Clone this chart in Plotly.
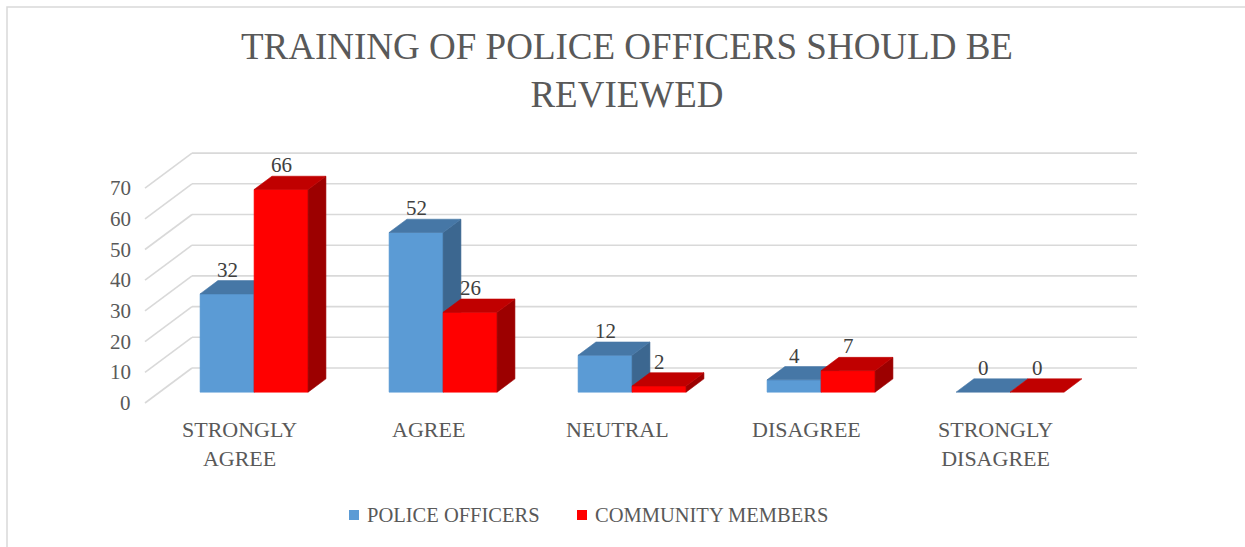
import plotly.graph_objects as go

# ---- data -------------------------------------------------------------
categories = ["STRONGLY<br>AGREE", "AGREE", "NEUTRAL", "DISAGREE", "STRONGLY<br>DISAGREE"]
police_officers = [32, 52, 12, 4, 0]
community_members = [66, 26, 2, 7, 0]
series_names = ["POLICE OFFICERS", "COMMUNITY MEMBERS"]
y_ticks = [0, 10, 20, 30, 40, 50, 60, 70]

# ---- styling ----------------------------------------------------------
FONT = "Liberation Serif"
TEXT = "#595959"
GRID = "#D9D9D9"
# front / top / side shades for each series
SHADES = [
    ("#5B9BD5", "#4677A6", "#3C6790"),
    ("#FF0000", "#C00000", "#9C0000"),
]

W, H = 1245, 547
# oblique projection: a point at depth d (0 = front, 1 = back)
DX = 0.2487   # x-units of shift for full depth
DY = 11.40    # y-units of shift for full depth
D_FRONT, D_BACK = 0.31, 0.69   # depth span occupied by the bars
BAR_W = 0.2857
X_LO, X_HI = -0.5, len(categories) - 0.5


def proj(x, v, d):
    return x + d * DX, v + d * DY


def poly(points):
    xs, ys = zip(*[proj(*p) for p in points])
    return list(xs) + [xs[0]], list(ys) + [ys[0]]


fig = go.Figure()
shapes = []
annotations = []

# back wall grid + left wall diagonals
for v in y_ticks:
    bx0, by = proj(X_LO, v, 1)
    bx1, _ = proj(X_HI, v, 1)
    shapes.append(dict(type="line", xref="x", yref="y", x0=bx0, y0=by, x1=bx1, y1=by,
                       line=dict(color=GRID, width=1.6), layer="below"))
    fx, fy = proj(X_LO, v, 0)
    shapes.append(dict(type="line", xref="x", yref="y", x0=fx, y0=fy, x1=bx0, y1=by,
                       line=dict(color=GRID, width=1.6), layer="below"))
    annotations.append(dict(x=fx, y=fy, xref="x", yref="y", text=str(v), showarrow=False,
                            xanchor="right", yanchor="middle", xshift=-12,
                            font=dict(family=FONT, size=21, color=TEXT)))


def add_face(pts, color):
    xs, ys = poly(pts)
    fig.add_trace(go.Scatter(x=xs, y=ys, mode="lines", fill="toself", fillcolor=color,
                             line=dict(color=color, width=0.6), hoverinfo="skip",
                             showlegend=False))


for i, _ in enumerate(categories):
    for s, values in enumerate([police_officers, community_members]):
        v = values[i]
        front, top, side = SHADES[s]
        l = i - BAR_W + s * BAR_W
        r = l + BAR_W
        if v > 0:
            add_face([(l, 0, D_FRONT), (r, 0, D_FRONT), (r, v, D_FRONT), (l, v, D_FRONT)], front)
            add_face([(r, 0, D_FRONT), (r, 0, D_BACK), (r, v, D_BACK), (r, v, D_FRONT)], side)
        add_face([(l, v, D_FRONT), (r, v, D_FRONT), (r, v, D_BACK), (l, v, D_BACK)], top)
        # value label
        lx, _ = proj((l + r) / 2, v, D_FRONT)
        _, ly = proj((l + r) / 2, v, D_BACK)
        annotations.append(dict(x=lx, y=ly, xref="x", yref="y", text=str(v), showarrow=False,
                                xanchor="center", yanchor="bottom", yshift=-3,
                                font=dict(family=FONT, size=21, color="#404040")))

# category labels
for i, c in enumerate(categories):
    annotations.append(dict(x=i, y=0, xref="x", yref="y", text=c, showarrow=False,
                            xanchor="center", yanchor="top", yshift=-12,
                            font=dict(family=FONT, size=22, color=TEXT)))

# title
annotations.append(dict(x=627 / W, y=1 - 70 / H, xref="paper", yref="paper",
                        text="TRAINING OF POLICE OFFICERS SHOULD BE<br>REVIEWED",
                        showarrow=False, xanchor="center", yanchor="middle",
                        font=dict(family=FONT, size=37, color=TEXT)))

# legend
legend_items = [(349, series_names[0], SHADES[0][0]), (577, series_names[1], SHADES[1][0])]
for px, name, color in legend_items:
    shapes.append(dict(type="rect", xref="paper", yref="paper",
                       x0=px / W, x1=(px + 10) / W, y0=1 - 520 / H, y1=1 - 510 / H,
                       fillcolor=color, line=dict(width=0)))
    annotations.append(dict(x=(px + 16) / W, y=1 - 515 / H, xref="paper", yref="paper",
                            text=name, showarrow=False, xanchor="left", yanchor="middle",
                            font=dict(family=FONT, size=20.5, color=TEXT)))

# chart frame
shapes.append(dict(type="rect", xref="paper", yref="paper", x0=7 / W, x1=1.02,
                   y0=-0.02, y1=1 - 7 / H, line=dict(color=GRID, width=1.5), layer="below"))

# pixel mapping: category i at 239.5 + 189*i px, value v at 403 - 3.07*v px
x_range = [(0 - 239.5) / 189, (W - 239.5) / 189]
y_range = [(403 - H) / 3.07, 403 / 3.07]

fig.update_layout(
    width=W, height=H,
    margin=dict(l=0, r=0, t=0, b=0),
    paper_bgcolor="white", plot_bgcolor="white",
    font=dict(family=FONT),
    xaxis=dict(range=x_range, visible=False, fixedrange=True),
    yaxis=dict(range=y_range, visible=False, fixedrange=True),
    shapes=shapes, annotations=annotations, showlegend=False,
)

fig.write_html("out.html")
